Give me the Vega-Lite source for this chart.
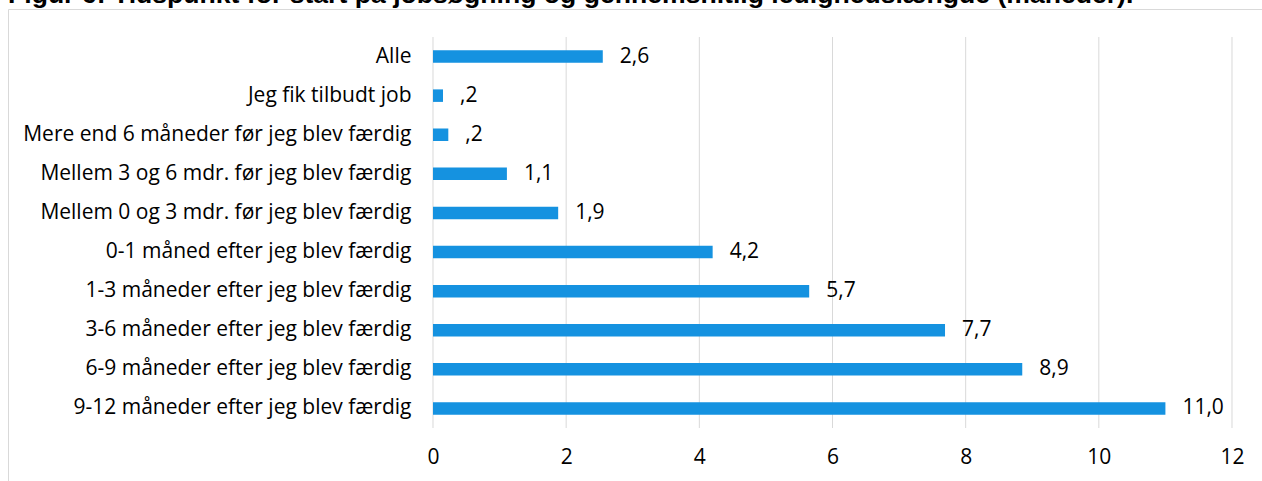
{
  "$schema": "https://vega.github.io/schema/vega-lite/v6.json",
  "autosize": {"type": "none"},
  "width": 1270,
  "height": 490,
  "padding": {"left": 8, "top": 9, "right": 0, "bottom": 0},
  "background": "white",
  "title": {
    "text": "Figur 6: Tidspunkt for start på jobsøgning og gennemsnitlig ledighedslængde (måneder).",
    "anchor": "start",
    "font": "Liberation Sans",
    "fontWeight": "bold",
    "fontSize": 26.6,
    "color": "#000000",
    "baseline": "alphabetic",
    "offset": 0,
    "dx": 0,
    "dy": 21
  },
  "config": {
    "view": {"stroke": "#d9d9d9", "strokeWidth": 1}
  },
  "data": {
    "values": [
      {"cat": "Alle", "val": 2.55, "label": "2,6"},
      {"cat": "Jeg fik tilbudt job", "val": 0.15, "label": ",2"},
      {"cat": "Mere end 6 måneder før jeg blev færdig", "val": 0.23, "label": ",2"},
      {"cat": "Mellem 3 og 6 mdr. før jeg blev færdig", "val": 1.11, "label": "1,1"},
      {"cat": "Mellem 0 og 3 mdr. før jeg blev færdig", "val": 1.88, "label": "1,9"},
      {"cat": "0-1 måned efter jeg blev færdig", "val": 4.2, "label": "4,2"},
      {"cat": "1-3 måneder efter jeg blev færdig", "val": 5.65, "label": "5,7"},
      {"cat": "3-6 måneder efter jeg blev færdig", "val": 7.69, "label": "7,7"},
      {"cat": "6-9 måneder efter jeg blev færdig", "val": 8.85, "label": "8,9"},
      {"cat": "9-12 måneder efter jeg blev færdig", "val": 11.0, "label": "11,0"}
    ]
  },
  "encoding": {
    "y": {
      "field": "cat",
      "type": "nominal",
      "sort": null,
      "scale": {
        "domain": ["Alle", "Jeg fik tilbudt job", "Mere end 6 måneder før jeg blev færdig", "Mellem 3 og 6 mdr. før jeg blev færdig", "Mellem 0 og 3 mdr. før jeg blev færdig", "0-1 måned efter jeg blev færdig", "1-3 måneder efter jeg blev færdig", "3-6 måneder efter jeg blev færdig", "6-9 måneder efter jeg blev færdig", "9-12 måneder efter jeg blev færdig"],
        "range": [28, 419],
        "paddingInner": 0,
        "paddingOuter": 0
      },
      "axis": {
        "title": null,
        "orient": "left",
        "offset": -425,
        "ticks": false,
        "tickSize": 0,
        "domain": false,
        "grid": false,
        "labelPadding": 22,
        "labelFont": "Open Sans",
        "labelFontSize": 21,
        "labelColor": "#000000",
        "labelLimit": 600
      }
    },
    "x": {
      "field": "val",
      "type": "quantitative",
      "scale": {"domain": [-6.383, 12.691], "nice": false, "zero": false},
      "axis": {
        "title": null,
        "orient": "bottom",
        "offset": -71,
        "values": [0, 2, 4, 6, 8, 10, 12],
        "format": "d",
        "ticks": false,
        "tickSize": 0,
        "domain": false,
        "grid": false,
        "labelPadding": 18,
        "labelFont": "Open Sans",
        "labelFontSize": 21,
        "labelColor": "#000000"
      }
    }
  },
  "layer": [
    {
      "data": {"values": [{"v": 0}, {"v": 2}, {"v": 4}, {"v": 6}, {"v": 8}, {"v": 10}, {"v": 12}]},
      "mark": {"type": "rule", "color": "#d9d9d9", "strokeWidth": 1},
      "encoding": {
        "x": {"field": "v", "type": "quantitative"},
        "y": {"datum": "Alle", "type": "nominal", "bandPosition": 0},
        "y2": {"datum": "9-12 måneder efter jeg blev færdig", "bandPosition": 1}
      }
    },
    {
      "mark": {"type": "bar", "color": "#1592e0", "height": {"band": 0.32}},
      "encoding": {"x2": {"datum": 0}}
    },
    {
      "mark": {"type": "text", "align": "left", "baseline": "middle", "dx": 17, "font": "Open Sans", "fontSize": 21, "color": "#000000"},
      "encoding": {"text": {"field": "label"}}
    }
  ]
}
